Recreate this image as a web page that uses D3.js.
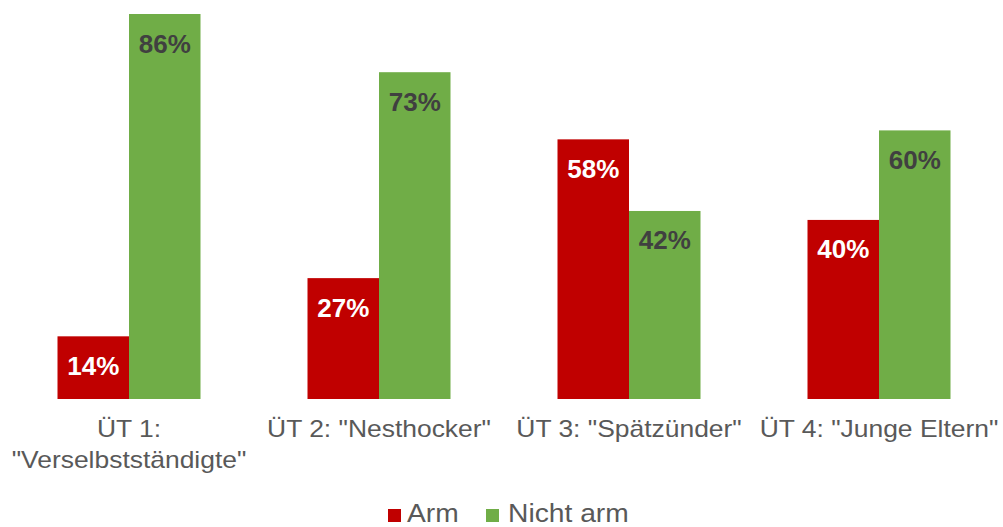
<!DOCTYPE html>
<html>
<head>
<meta charset="utf-8">
<script src="https://cdn.jsdelivr.net/npm/d3@7"></script>
<style>
  body { margin: 0; background: #fff; }
  svg { display: block; font-family: "Liberation Sans", Arial, sans-serif; }
</style>
</head>
<body>
<script>
// data
var categories = ['ÜT 1: "Verselbstständigte"', 'ÜT 2: "Nesthocker"', 'ÜT 3: "Spätzünder"', 'ÜT 4: "Junge Eltern"'];
var seriesNames = ['Arm', 'Nicht arm'];
var arm = [14, 27, 58, 40];
var nichtArm = [86, 73, 42, 60];
var colors = ['#c00000', '#70ad47'];
var labelColors = ['#ffffff', '#404040'];

var width = 1003, height = 527;
var baseline = 399;

var rows = categories.map(function(c, i) {
  return { cat: c, values: [arm[i], nichtArm[i]] };
});

var svg = d3.select('body').append('svg')
  .attr('width', width)
  .attr('height', height);

var x0 = d3.scaleBand()
  .domain(categories)
  .range([4, 1004])
  .paddingInner(0.428)
  .paddingOuter(0.214);

var x1 = d3.scaleBand()
  .domain([0, 1])
  .range([0, x0.bandwidth()]);

var y = d3.scaleLinear()
  .domain([0, 86])
  .range([baseline, 14]);

var groups = svg.selectAll('g.grp').data(rows).enter().append('g')
  .attr('class', 'grp')
  .attr('transform', function(d) { return 'translate(' + x0(d.cat) + ',0)'; });

groups.selectAll('rect').data(function(d) { return d.values; }).enter().append('rect')
  .attr('x', function(d, i) { return x1(i); })
  .attr('y', function(d) { return y(d); })
  .attr('width', x1.bandwidth())
  .attr('height', function(d) { return baseline - y(d); })
  .style('fill', function(d, i) { return colors[i]; });

groups.selectAll('text.val').data(function(d) { return d.values; }).enter().append('text')
  .attr('class', 'val')
  .attr('x', function(d, i) { return x1(i) + x1.bandwidth() / 2; })
  .attr('y', function(d) { return y(d) + 38.5; })
  .attr('text-anchor', 'middle')
  .style('font-size', '26px')
  .style('font-weight', 'bold')
  .style('fill', function(d, i) { return labelColors[i]; })
  .text(function(d) { return d + '%'; });

// category axis, long label wraps onto two lines
var xAxis = svg.append('g')
  .attr('transform', 'translate(0,' + baseline + ')')
  .call(d3.axisBottom(x0).tickSize(0).tickPadding(0));
xAxis.select('.domain').remove();
xAxis.selectAll('text')
  .style('font-family', '"Liberation Sans", Arial, sans-serif')
  .style('font-size', '23px')
  .style('fill', '#595959')
  .attr('dy', null)
  .attr('y', 0)
  .attr('transform', 'scale(1.15,1)')
  .each(function(d) {
    var t = d3.select(this);
    var words = d.split(' ');
    var lines = d.length > 22 ? [words.slice(0, 2).join(' '), words.slice(2).join(' ')] : [d];
    t.text(null);
    lines.forEach(function(line, k) {
      t.append('tspan').attr('x', 0).attr('y', 38 + k * 31).text(line);
    });
  });

// legend
var legSquareX = [388, 486];
var legTextX = [407, 508];
seriesNames.forEach(function(name, i) {
  svg.append('rect')
    .attr('x', legSquareX[i])
    .attr('y', 509)
    .attr('width', 13)
    .attr('height', 13)
    .style('fill', colors[i]);
  svg.append('text')
    .attr('transform', 'translate(' + legTextX[i] + ',521.5) scale(1.13,1)')
    .style('font-size', '25px')
    .style('fill', '#595959')
    .text(name);
});
</script>
</body>
</html>
